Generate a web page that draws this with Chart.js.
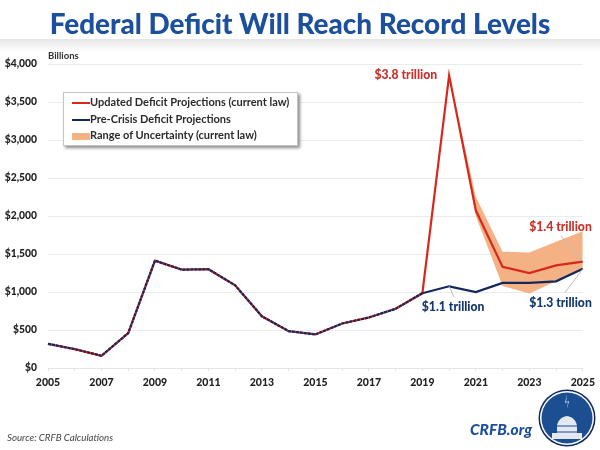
<!DOCTYPE html>
<html><head><meta charset="utf-8">
<script src="https://cdn.jsdelivr.net/npm/chart.js@4"></script>
<style>
html,body{margin:0;padding:0;background:#fff;width:600px;height:450px;overflow:hidden;font-family:Lato,"Open Sans",sans-serif}
#wrap{position:relative;width:600px;height:450px}
canvas{position:absolute;left:0;top:0}
#band{position:absolute;left:0;top:39px;width:600px;height:13px;background:linear-gradient(#e6e6e6,#fff)}
#title{position:absolute;left:0;top:3px;width:600px;text-align:center;font-size:27.9px;font-weight:900;color:#1c4f9c;line-height:40px;white-space:nowrap}
#unit{position:absolute;left:48px;top:50px;font-size:9.5px;font-weight:700;color:#333}
#legend{position:absolute;left:63px;top:92px;width:233px;height:52px;background:#fff;border:1px solid #c4c4c4;box-shadow:2px 2px 3px #8a8a8a;font-size:11px;font-weight:700;color:#2b2b2b}
.row{position:absolute;left:8px;height:17px;line-height:17px;white-space:nowrap}
.sw{display:inline-block;width:18px;vertical-align:middle;margin-right:0}
#src{position:absolute;left:7px;top:431px;font-size:9.7px;font-style:italic;color:#444}
#crfb{position:absolute;left:470px;top:420px;font-size:15.5px;font-weight:900;font-style:italic;color:#1c4f9c}
#logo{position:absolute;left:538px;top:389px}
</style></head><body><div id="wrap">
<div id="band"></div>
<canvas id="c" width="600" height="450"></canvas>
<div id="title">Federal Deficit Will Reach Record Levels</div>
<div id="unit">Billions</div>
<div id="legend">
<div class="row" style="top:0px"><span class="sw" style="height:2px;background:#d8281e"></span>Updated Deficit Projections (current law)</div>
<div class="row" style="top:17px"><span class="sw" style="height:2px;background:#12285e"></span>Pre-Crisis Deficit Projections</div>
<div class="row" style="top:33px"><span class="sw" style="height:7px;background:#f4b183"></span>Range of Uncertainty (current law)</div>
</div>
<div id="src">Source: CRFB Calculations</div>
<div id="crfb">CRFB.org</div>
<svg id="logo" width="60" height="60" viewBox="0 0 60 60">
<circle cx="29" cy="29" r="28.5" fill="#12285e"/><circle cx="29" cy="29" r="27" fill="#fff"/><circle cx="29" cy="29" r="25.5" fill="#1c4f92"/>
<path d="M29 5l-2 9 3-1-1 7 2-8-3 1z" fill="#dfe6f2"/>
<path d="M14 50v-6h5v-6c0-6 4-10 10-11 6 1 10 5 10 11v6h5v6z" fill="#e4e8f0"/>
<path d="M19 37h20M18 43h22" stroke="#1c4f92" stroke-width="1.2"/>
</svg>
</div>
<script>
const years=['2005','2006','2007','2008','2009','2010','2011','2012','2013','2014','2015','2016','2017','2018','2019','2020','2021','2022','2023','2024','2025'];
const updated=[318,248,161,459,1413,1294,1300,1087,680,485,442,585,665,779,984,3850,2072,1330,1250,1350,1400];
const preCrisis=[318,248,161,459,1413,1294,1300,1087,680,485,442,585,665,779,984,1075,1000,1120,1120,1140,1305];
const rangeHigh=[null,null,null,null,null,null,null,null,null,null,null,null,null,null,null,3850,2250,1530,1520,1660,1800];
const rangeLow=[null,null,null,null,null,null,null,null,null,null,null,null,null,null,null,3850,2000,1080,980,1140,1290];
const yTicks=[0,500,1000,1500,2000,2500,3000,3500,4000];
const callouts=[
 {text:'$3.8 trillion',year:'2020',value:3850,color:'#c8322b',align:'right',dx:-12,dy:0,size:12.2},
 {text:'$1.4 trillion',year:'2025',value:1400,color:'#c8322b',align:'right',dx:9,dy:-35,size:12.2,leader:[-22,-26]},
 {text:'$1.1 trillion',year:'2020',value:1075,color:'#12386e',align:'center',dx:4,dy:21,size:12.2,leader:[5,11]},
 {text:'$1.3 trillion',year:'2025',value:1305,color:'#12386e',align:'right',dx:9,dy:34,size:12.2,leader:[-18,24]}
];
const calloutPlugin={id:'callouts',afterDatasetsDraw(ch){
 const c=ch.ctx,x=ch.scales.x,y=ch.scales.y;
 c.save();
 for(const a of callouts){
  const px=x.getPixelForValue(years.indexOf(a.year)),py=y.getPixelForValue(a.value);
  if(a.leader){c.strokeStyle='#bdbdbd';c.lineWidth=1;c.beginPath();
   c.moveTo(px,py);c.lineTo(px+a.leader[0],py+a.leader[1]);c.stroke();}
  c.font='900 '+a.size+'px Lato';c.fillStyle=a.color;c.textAlign=a.align;c.textBaseline='middle';
  c.fillText(a.text,px+a.dx,py+a.dy);
 }
 c.restore();
}};
new Chart(document.getElementById('c'),{
 type:'line',
 data:{labels:years,datasets:[
  {label:'Range high',data:rangeHigh,borderWidth:0,pointRadius:0,backgroundColor:'#f4b183',fill:'+1',tension:0,order:5},
  {label:'Range low',data:rangeLow,borderWidth:0,pointRadius:0,fill:false,tension:0,order:6},
  {label:'Updated Deficit Projections (current law)',data:updated,borderColor:'#d8281e',borderWidth:2.2,pointRadius:0,fill:false,tension:0,order:2},
  {label:'Pre-Crisis Deficit Projections',data:preCrisis,borderColor:'#12285e',borderWidth:2.2,pointRadius:0,fill:false,tension:0,order:1,
   segment:{borderDash:ctx=>ctx.p1DataIndex<=14?[3,1]:undefined}}
 ]},
 options:{
  responsive:false,animation:false,devicePixelRatio:1,
  layout:{padding:{top:64,right:15,left:0,bottom:0}},
  plugins:{legend:{display:false},tooltip:{enabled:false},title:{display:false}},
  scales:{
   x:{offset:false,afterFit:s=>{s.height=82},
    grid:{display:true,drawOnChartArea:false,drawTicks:true,tickLength:3,color:'#e4e4e4'},
    border:{color:'#e4e4e4'},
    ticks:{autoSkip:false,maxRotation:0,color:'#222',font:{family:'Lato',size:10.5,weight:'900'},padding:5,
     callback(v,i){return i%2===0?years[i]:''}}},
   y:{min:0,max:4000,afterFit:s=>{s.width=48},afterBuildTicks:s=>{s.ticks=yTicks.map(v=>({value:v}))},
    grid:{color:'#ebebeb',drawTicks:false,lineWidth:1},border:{display:false},
    ticks:{color:'#222',padding:11,font:{family:'Lato',size:10.3,weight:'900'},callback:v=>'$'+v.toLocaleString('en-US')}}
  }
 },
 plugins:[calloutPlugin]
});
</script></body></html>
